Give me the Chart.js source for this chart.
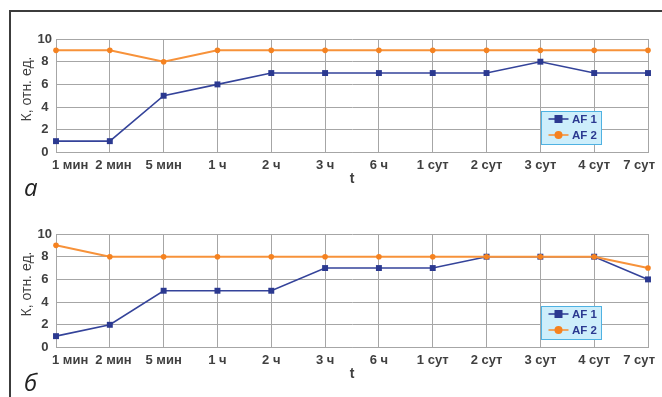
<!DOCTYPE html>
<html><head><meta charset="utf-8">
<script src="https://cdn.jsdelivr.net/npm/chart.js@4.4.1/dist/chart.umd.min.js"></script>
<style>
html,body{margin:0;padding:0;background:#fff;}
#page{position:relative;width:662px;height:397px;overflow:hidden;background:#fff;}
canvas{position:absolute;left:0;}
.frame{position:absolute;left:9px;top:10px;width:700px;height:400px;border-top:2px solid #3c3c3c;border-left:2px solid #3c3c3c;}
.ytitle{position:absolute;left:26px;transform:translate(-50%,-50%) rotate(-90deg);white-space:nowrap;font:14px "Liberation Sans",Arial,sans-serif;line-height:14px;color:#404040;}
.panel{position:absolute;left:24px;font:italic 24px "Open Sans",sans-serif;line-height:24px;color:#222;}
.leg{position:absolute;left:541px;width:61px;height:34px;box-sizing:border-box;border:1.5px solid #4fb2e2;background:#cdeefb;}
.leg svg{position:absolute;left:6px;}
.leg span{position:absolute;left:30px;font:bold 11.5px "Liberation Sans",Arial,sans-serif;line-height:12px;color:#2b3990;white-space:nowrap;}
</style></head>
<body>
<div id="page">
  <canvas id="c1" width="662" height="196" style="top:0px"></canvas>
  <canvas id="c2" width="662" height="196" style="top:195px"></canvas>
  <div class="frame"></div>
  <div class="ytitle" style="top:89px">К, отн. ед.</div>
  <div class="ytitle" style="top:284px">К, отн. ед.</div>
  <div class="panel" style="top:175px">а</div>
  <div class="panel" style="top:370px">б</div>
  <div class="leg" style="top:111px" id="leg1"></div>
  <div class="leg" style="top:306px" id="leg2"></div>
</div>
<script>
const categories = ['1 мин','2 мин','5 мин','1 ч','2 ч','3 ч','6 ч','1 сут','2 сут','3 сут','4 сут','7 сут'];
const af1A = [1,1,5,6,7,7,7,7,7,8,7,7];
const af2A = [9,9,8,9,9,9,9,9,9,9,9,9];
const af1B = [1,2,5,5,5,7,7,7,8,8,8,6];
const af2B = [9,8,8,8,8,8,8,8,8,8,8,7];
const yTickLabels = [0,2,4,6,8,10];
const seriesNames = ['AF 1','AF 2'];
const xTitle = 't';

const BLUE = '#2b3990', BLUE_LINE = '#34439a', ORANGE = '#f58220', ORANGE_LINE = '#f7923a';
const FONT = '"Liberation Sans", Arial, sans-serif';

// Draws the category labels under the x axis at the scale's tick positions,
// nudging the outermost ones inward and avoiding overlaps (as the source does).
const xLabelPlugin = {
  id: 'xLabels',
  afterDraw(chart) {
    const s = chart.scales.x, a = chart.chartArea, ctx = chart.ctx;
    ctx.save();
    ctx.font = 'bold 13px ' + FONT;
    ctx.fillStyle = '#404040';
    ctx.textBaseline = 'middle';
    ctx.textAlign = 'left';
    const y = a.bottom + 12.5;
    let prevRight = -Infinity;
    s.ticks.forEach((t, i) => {
      const label = String(chart.data.labels[i]);
      const w = ctx.measureText(label).width;
      const c = s.getPixelForTick(i);
      let left = Math.max(c - w / 2, a.left - 4, prevRight + 7);
      if (left + w > a.right + 7) left = a.right + 7 - w;
      ctx.fillText(label, left, y);
      prevRight = left + w;
    });
    ctx.restore();
  }
};

function makeChart(id, af1, af2) {
  return new Chart(document.getElementById(id), {
    type: 'line',
    data: {
      labels: categories,
      datasets: [
        {label: seriesNames[0], data: af1, borderColor: BLUE_LINE, backgroundColor: BLUE,
         borderWidth: 1.6, pointStyle: 'rect', pointRadius: 4.2, pointBackgroundColor: BLUE,
         pointBorderColor: BLUE, pointBorderWidth: 0, tension: 0, order: 2, clip: false},
        {label: seriesNames[1], data: af2, borderColor: ORANGE_LINE, backgroundColor: ORANGE,
         borderWidth: 2, pointStyle: 'circle', pointRadius: 2.8, pointBackgroundColor: ORANGE,
         pointBorderColor: ORANGE, pointBorderWidth: 0, tension: 0, order: 1, clip: false}
      ]
    },
    plugins: [xLabelPlugin],
    options: {
      responsive: false, animation: false, devicePixelRatio: 1,
      layout: {padding: {left: 0, right: 14, top: 39, bottom: 0}},
      plugins: {legend: {display: false}, tooltip: {enabled: false}},
      scales: {
        x: {
          offset: false,
          grid: {color: '#a6a6a6', drawTicks: false, lineWidth: 1},
          border: {color: '#a6a6a6'},
          ticks: {display: false, autoSkip: false, maxRotation: 0},
          title: {display: true, text: xTitle, color: '#404040',
                  font: {family: FONT, size: 14, weight: 'bold'}, padding: {top: 0, bottom: 8.6}},
          afterFit(s) { s.height = 43.5; s.paddingLeft = 0; s.paddingRight = 0; }
        },
        y: {
          min: 0, max: 10,
          grid: {color: c => (c.tick && c.tick.value % 2 === 0) ? '#a6a6a6' : '#cfcfcf', drawTicks: false},
          border: {color: '#a6a6a6'},
          ticks: {stepSize: 1, callback: v => yTickLabels.includes(v) ? String(v) : '',
                  color: '#404040', font: {family: FONT, size: 13, weight: 'bold'},
                  crossAlign: 'center', padding: 4},
          afterFit(s) { s.width = 56; }
        }
      }
    }
  });
}
makeChart('c1', af1A, af2A);
makeChart('c2', af1B, af2B);

function buildLegend(id) {
  const el = document.getElementById(id);
  const rows = [
    {name: seriesNames[0], color: BLUE, line: BLUE_LINE, shape: 'rect', y: 8.3},
    {name: seriesNames[1], color: ORANGE, line: ORANGE_LINE, shape: 'circle', y: 24.7}
  ];
  rows.forEach(r => {
    const ns = 'http://www.w3.org/2000/svg';
    const svg = document.createElementNS(ns, 'svg');
    svg.setAttribute('width', '22'); svg.setAttribute('height', '10');
    svg.style.top = (r.y - 1.5 - 5) + 'px';
    const ln = document.createElementNS(ns, 'line');
    ln.setAttribute('x1', '0.5'); ln.setAttribute('x2', '20.5');
    ln.setAttribute('y1', '5'); ln.setAttribute('y2', '5');
    ln.setAttribute('stroke', r.line); ln.setAttribute('stroke-width', '1.6');
    svg.appendChild(ln);
    let m;
    if (r.shape === 'rect') {
      m = document.createElementNS(ns, 'rect');
      m.setAttribute('x', '6.5'); m.setAttribute('y', '1'); m.setAttribute('width', '8'); m.setAttribute('height', '8');
    } else {
      m = document.createElementNS(ns, 'circle');
      m.setAttribute('cx', '10.5'); m.setAttribute('cy', '5'); m.setAttribute('r', '4');
    }
    m.setAttribute('fill', r.color);
    svg.appendChild(m);
    el.appendChild(svg);
    const sp = document.createElement('span');
    sp.textContent = r.name;
    sp.style.top = (r.y - 1.5 - 6) + 'px';
    el.appendChild(sp);
  });
}
buildLegend('leg1');
buildLegend('leg2');
</script>
</body></html>
